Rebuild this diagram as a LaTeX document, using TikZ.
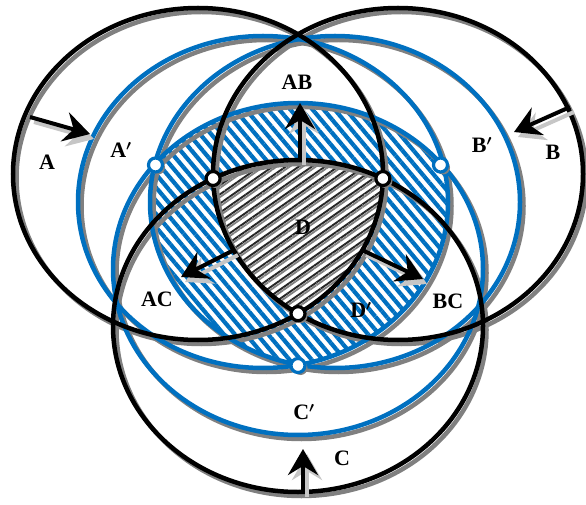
\documentclass[tikz,border=0pt]{standalone}
\usepackage{fontspec}
\setmainfont{Liberation Serif}
\usepackage{xcolor}
\usetikzlibrary{arrows.meta, patterns.meta, shadows}
\definecolor{ringblue}{RGB}{0,112,192}

\begin{document}
\begin{tikzpicture}[x=1pt, y=1pt,
    bigell/.style={x radius=185, y radius=166},
    ring/.style={draw=#1, line width=4.5pt},
    dot/.style={circle, draw=#1, fill=white, line width=3.2pt, minimum size=14pt, inner sep=0pt,
        drop shadow={shadow xshift=2.5pt, shadow yshift=-2.5pt, fill=gray, opacity=1}},
    arr/.style={-{Stealth[length=26pt, width=30pt, inset=9pt]}, line width=4pt, draw=#1},
    lbl/.style={font=\fontsize{22}{26}\selectfont\bfseries\boldmath}
]

\useasboundingbox (0,0) rectangle (586,504);

\coordinate (A) at (198,330);
\coordinate (B) at (398,330);
\coordinate (C) at (298,178);
\coordinate (Ap) at (263,302);
\coordinate (Bp) at (335,302);
\coordinate (Cp) at (298,235);

\begin{scope}
    \clip (Ap) ellipse [bigell];
    \clip (Bp) ellipse [bigell];
    \clip (Cp) ellipse [bigell];
    \fill[white] (0,0) rectangle (586,504);
    \fill[pattern={Lines[angle=-50, distance=8.5pt, line width=4.2pt]}, pattern color=ringblue] (0,0) rectangle (586,504);
\end{scope}

\begin{scope}
    \clip (A) ellipse [bigell];
    \clip (B) ellipse [bigell];
    \clip (C) ellipse [bigell];
    \fill[white] (0,0) rectangle (586,504);
    \fill[pattern={Lines[angle=35, distance=7.5pt, line width=1.8pt, yshift=-2.8pt]}, pattern color=gray] (0,0) rectangle (586,504);
    \fill[pattern={Lines[angle=35, distance=7.5pt, line width=1.9pt]}, pattern color=black!85] (0,0) rectangle (586,504);
\end{scope}

\foreach \c in {Ap, Bp, Cp, A, B, C} {
    \draw[ring=gray] ([xshift=3.5pt, yshift=-4pt]\c) ellipse [bigell];
}
\foreach \c in {Ap, Bp, Cp} {
    \draw[ring=ringblue] (\c) ellipse [bigell];
}
\foreach \c in {A, B, C} {
    \draw[ring=black] (\c) ellipse [bigell];
}

\node[dot=ringblue] (qL) at (155.5,339) {};
\node[dot=ringblue] (qR) at (440.5,339) {};
\node[dot=ringblue] (qD) at (298,138.5) {};
\node[dot=black] (pL) at (213.1,325.5) {};
\node[dot=black] (pR) at (382.9,325.5) {};
\node[dot=black] (pD) at (298,190.3) {};

\coordinate (sA) at (30,387);   \coordinate (tA) at (90,370);
\coordinate (sB) at (570,397);  \coordinate (tB) at (514,372);
\coordinate (sC) at (303,12);   \coordinate (tC) at (303,55);
\coordinate (sAB) at (300,344); \coordinate (tAB) at (300,401);
\coordinate (sAC) at (234,254); \coordinate (tAC) at (181,227);
\coordinate (sBC) at (362,254); \coordinate (tBC) at (423,225);

\foreach \s/\t in {sA/tA, sB/tB, sC/tC, sAB/tAB, sAC/tAC, sBC/tBC} {
    \draw[arr=gray!45] ([xshift=4pt, yshift=-5pt]\s) -- ([xshift=4pt, yshift=-5pt]\t);
    \draw[arr=black] (\s) -- (\t);
}

\node[lbl] (lA) at (47,342) {A};
\node[lbl] (lAp) at (121,354) {A$'$};
\node[lbl] (lAB) at (297,422) {AB};
\node[lbl] (lBp) at (482,359) {B$'$};
\node[lbl] (lB) at (553,352) {B};
\node[lbl] (lD) at (303,277) {D};
\node[lbl] (lDp) at (361,194) {D$'$};
\node[lbl] (lAC) at (157,205) {AC};
\node[lbl] (lBC) at (448,203) {BC};
\node[lbl] (lCp) at (304,92) {C$'$};
\node[lbl] (lC) at (342,46) {C};

\end{tikzpicture}
\end{document}
